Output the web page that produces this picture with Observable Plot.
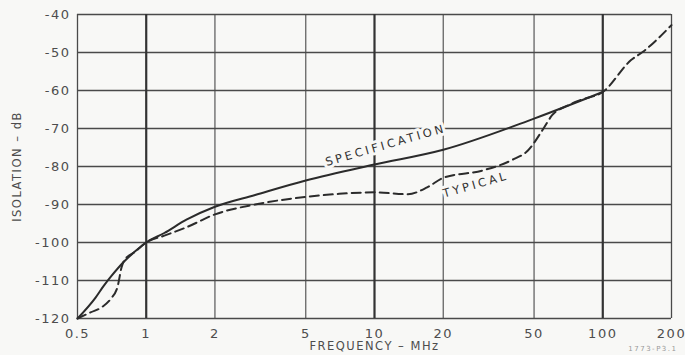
<!DOCTYPE html>
<html><head><meta charset="utf-8">
<script src="https://cdn.jsdelivr.net/npm/d3@7"></script>
<script src="https://cdn.jsdelivr.net/npm/@observablehq/plot@0.6"></script>
<style>
html,body{margin:0;padding:0;background:#f8f8f6;}
#chart svg{display:block;}
</style></head><body><div id="chart"></div>
<script>
// Frequency (MHz) and isolation (dB)
const specFreq = [0.5, 0.6, 0.65, 0.7, 0.8, 0.9, 1, 1.2, 1.5, 2, 3, 5, 10, 20, 50, 100];
const specDb   = [-120, -114.5, -111.5, -109, -105, -102.2, -100, -97.5, -94, -90.6, -87.5, -83.7, -79.5, -75.6, -67.4, -60.4];

const typFreq = [0.5, 0.57, 0.64, 0.7, 0.75, 0.78, 0.8, 0.9, 1, 1.2, 1.5, 2, 3, 5, 7, 10, 14, 17, 20, 30, 40, 47, 55, 60, 70, 80, 100, 133, 150, 200];
const typDb   = [-120, -118.4, -117, -114.8, -111.5, -106.5, -104.8, -102.3, -100, -98.2, -96, -92.6, -90, -88, -87.2, -86.8, -87.3, -85.5, -83, -81, -78.3, -75.8, -70, -66.5, -64, -62.5, -60.4, -52, -49.8, -42.8];

const xTicks = [0.5, 1, 2, 5, 10, 20, 50, 100, 200];
const xMinorGrid = [2, 5, 20, 50];
const xDecadeGrid = [1, 10, 100];
const yTicks = [-120, -110, -100, -90, -80, -70, -60, -50, -40];

const curveLabels = [
  {text: "SPECIFICATION", f: 11.2, db: -74.4},
  {text: "TYPICAL", f: 27.8, db: -84.8}
];
const xTitle = "FREQUENCY – MHz";
const yTitle = "ISOLATION – dB";
const caption = "1773-P3.1";

const spec = specFreq.map((f, i) => ({f, db: specDb[i]}));
const typ = typFreq.map((f, i) => ({f, db: typDb[i]}));

const ink = "#2b2b2b";
const gridInk = "#4a4a4a";
const textInk = "#4d4d4d";
const bg = "#f8f8f6";

const chart = Plot.plot({
  width: 685,
  height: 355,
  marginLeft: 77,
  marginRight: 14,
  marginTop: 14,
  marginBottom: 37,
  style: {background: bg, fontFamily: "DejaVu Sans, sans-serif", color: textInk},
  x: {type: "log", domain: [0.5, 200], axis: null},
  y: {domain: [-120, -40], axis: null},
  marks: [
    Plot.ruleY(yTicks, {stroke: gridInk, strokeWidth: 1.3}),
    Plot.ruleX(xMinorGrid, {stroke: gridInk, strokeWidth: 1.1}),
    Plot.ruleX(xDecadeGrid, {stroke: "#333", strokeWidth: 2.2}),
    Plot.ruleX([0.5, 200], {stroke: gridInk, strokeWidth: 1.3}),
    Plot.line(spec, {x: "f", y: "db", stroke: ink, strokeWidth: 2, curve: "monotone-x"}),
    Plot.line(typ, {x: "f", y: "db", stroke: ink, strokeWidth: 2, strokeDasharray: "9,5", curve: "monotone-x"}),
    Plot.text(curveLabels, {x: "f", y: "db", text: "text", rotate: -16, fontSize: 11.5, fill: "#333",
      stroke: bg, strokeWidth: 6, className: "curve-label"}),
    // x tick labels
    Plot.text(xTicks, {x: d => d, frameAnchor: "bottom", dy: 15, lineAnchor: "middle", textAnchor: "middle",
      text: d => String(d), fontSize: 13, fill: textInk}),
    // y tick labels
    Plot.text(yTicks, {y: d => d, frameAnchor: "left", dx: -7, textAnchor: "end", lineAnchor: "middle",
      text: d => "-" + Math.abs(d), fontSize: 13, fill: textInk}),
    Plot.text([xTitle], {frameAnchor: "bottom", dy: 28, lineAnchor: "middle", textAnchor: "middle", fontSize: 11.5, fill: textInk}),
    Plot.text([yTitle], {frameAnchor: "left", rotate: -90, dx: -60, textAnchor: "middle", lineAnchor: "middle", fontSize: 11.5, fill: textInk}),
    Plot.text([caption], {frameAnchor: "bottom-right", dy: 30, dx: 6, fontSize: 7, fill: "#999", textAnchor: "end", lineAnchor: "middle"})
  ]
});
document.getElementById("chart").append(chart);
// letter spacing to mimic technical lettering
d3.select(chart).selectAll("text").style("letter-spacing", "1.5px");
d3.select(chart).selectAll(".curve-label text").style("letter-spacing", "3px");
</script>
</body></html>
